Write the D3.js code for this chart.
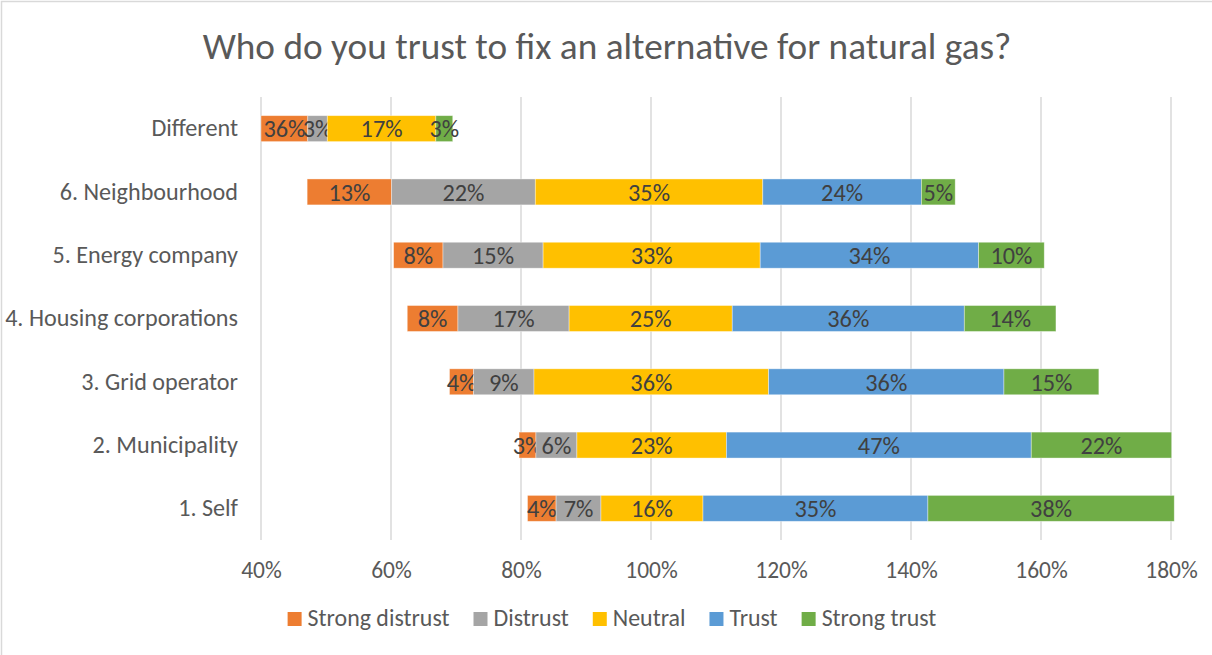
<!DOCTYPE html>
<html>
<head>
<meta charset="utf-8">
<script src="https://cdn.jsdelivr.net/npm/d3@7"></script>
<style>
  html, body { margin: 0; padding: 0; background: #fff; }
  svg { display: block; font-family: Carlito, Lato, "Open Sans", sans-serif; }
</style>
</head>
<body>
<svg id="chart" width="1212" height="655"></svg>
<script>
const title = "Who do you trust to fix an alternative for natural gas?";
const categories = ["Different", "6. Neighbourhood", "5. Energy company", "4. Housing corporations", "3. Grid operator", "2. Municipality", "1. Self"];
const seriesNames = ["Strong distrust", "Distrust", "Neutral", "Trust", "Strong trust"];
const seriesColors = ["#ED7D31", "#A5A5A5", "#FFC000", "#5B9BD5", "#70AD47"];
// invisible offset series (centres the Neutral block)
const offset        = [0.112, 0.471, 0.604, 0.625, 0.690, 0.797, 0.810];
const strongDistrust = [0.360, 0.130, 0.076, 0.078, 0.037, 0.026, 0.044];
const distrust      = [0.030, 0.221, 0.154, 0.171, 0.093, 0.063, 0.069];
const neutral       = [0.167, 0.350, 0.334, 0.251, 0.361, 0.230, 0.157];
const trust         = [0.000, 0.244, 0.336, 0.357, 0.362, 0.469, 0.346];
const strongTrust   = [0.026, 0.052, 0.101, 0.141, 0.146, 0.216, 0.379];
const xTicks = [0.4, 0.6, 0.8, 1.0, 1.2, 1.4, 1.6, 1.8];

const keys = ["offset", ...seriesNames];
const rows = categories.map((c, i) => ({
  category: c,
  offset: offset[i],
  "Strong distrust": strongDistrust[i],
  "Distrust": distrust[i],
  "Neutral": neutral[i],
  "Trust": trust[i],
  "Strong trust": strongTrust[i]
}));

const svg = d3.select("#chart");
svg.append("rect").attr("width", 1212).attr("height", 655).attr("fill", "#fff");
svg.append("path").attr("d", "M1.5,655 L1.5,1.5 L1212,1.5").attr("fill", "none").attr("stroke", "#d9d9d9").attr("stroke-width", 1.5);

// font size that makes a sample string reach the width measured on the reference
function fitSize(sample, width) {
  const t = svg.append("text").attr("font-size", 100).text(sample);
  const w = t.node().getComputedTextLength();
  t.remove();
  return 100 * width / w;
}
const titleSize = fitSize(title, 809);
const yLabelSize = fitSize("4. Housing corporations", 233);
const legendSize = fitSize("Strong distrust", 142);
const dataSize = fitSize("36%", 42);
const tickSize = fitSize("180%", 52.5);

const pLeft = 261, pRight = 1171, pTop = 97, pBottom = 540;
const x = d3.scaleLinear().domain([0.4, 1.8]).range([pLeft, pRight]);
const y = d3.scaleBand().domain(categories).range([pTop, pBottom]).paddingInner(0.59).paddingOuter(0.295);

svg.append("text").attr("x", 607).attr("y", 59).attr("text-anchor", "middle")
  .attr("font-size", titleSize).attr("fill", "#595959").text(title);

svg.append("g").selectAll("line").data(xTicks).join("line")
  .attr("x1", d => x(d)).attr("x2", d => x(d)).attr("y1", pTop).attr("y2", pBottom)
  .attr("stroke", "#d9d9d9").attr("stroke-width", 1.5);

const xAxis = d3.axisBottom(x).tickValues(xTicks).tickFormat(d3.format(".0%")).tickSize(0).tickPadding(0);
const gx = svg.append("g").attr("transform", `translate(0, 578)`).call(xAxis);
gx.attr("font-family", null).attr("font-size", null);
gx.select(".domain").remove();
gx.selectAll("text").attr("font-size", tickSize).attr("fill", "#595959").attr("dy", 0).attr("y", 0);

const yAxis = d3.axisLeft(y).tickSize(0).tickPadding(0);
const gy = svg.append("g").attr("transform", `translate(238, 0)`).call(yAxis);
gy.attr("font-family", null).attr("font-size", null);
gy.select(".domain").remove();
gy.selectAll("text").attr("font-size", yLabelSize).attr("fill", "#595959");

const stacked = d3.stack().keys(keys)(rows);
const xmin = x.range()[0];
const fmt = d3.format(".0%");
stacked.forEach(layer => {
  if (layer.key === "offset") return;
  const color = seriesColors[seriesNames.indexOf(layer.key)];
  const g = svg.append("g");
  layer.forEach(seg => {
    const v = seg[1] - seg[0];
    if (v <= 0) return;
    const x0 = Math.max(x(seg[0]), xmin);
    const x1 = x(seg[1]);
    if (x1 <= xmin) return;
    const cat = seg.data.category;
    g.append("rect")
      .attr("x", x0).attr("y", y(cat))
      .attr("width", x1 - x0).attr("height", y.bandwidth())
      .attr("fill", color).attr("stroke", "#ffffff").attr("stroke-opacity", 0.5).attr("stroke-width", 0.75);
    g.append("text")
      .attr("x", (x0 + x1) / 2).attr("y", y(cat) + y.bandwidth() / 2)
      .attr("dy", "0.36em").attr("text-anchor", "middle")
      .attr("font-size", dataSize).attr("fill", "#404040")
      .text(fmt(v));
  });
});

const legend = svg.append("g");
const items = seriesNames.map((name, i) => {
  const gi = legend.append("g");
  gi.append("rect").attr("x", 0).attr("y", -14).attr("width", 14).attr("height", 14).attr("fill", seriesColors[i]);
  const t = gi.append("text").attr("x", 20).attr("y", 0).attr("font-size", legendSize).attr("fill", "#595959").text(name);
  return { gi, w: 20 + t.node().getComputedTextLength() };
});
const gap = 24;
const total = d3.sum(items, d => d.w) + gap * (items.length - 1);
let cx = 612 - total / 2;
items.forEach(it => { it.gi.attr("transform", `translate(${cx}, 626)`); cx += it.w + gap; });
</script>
</body>
</html>
